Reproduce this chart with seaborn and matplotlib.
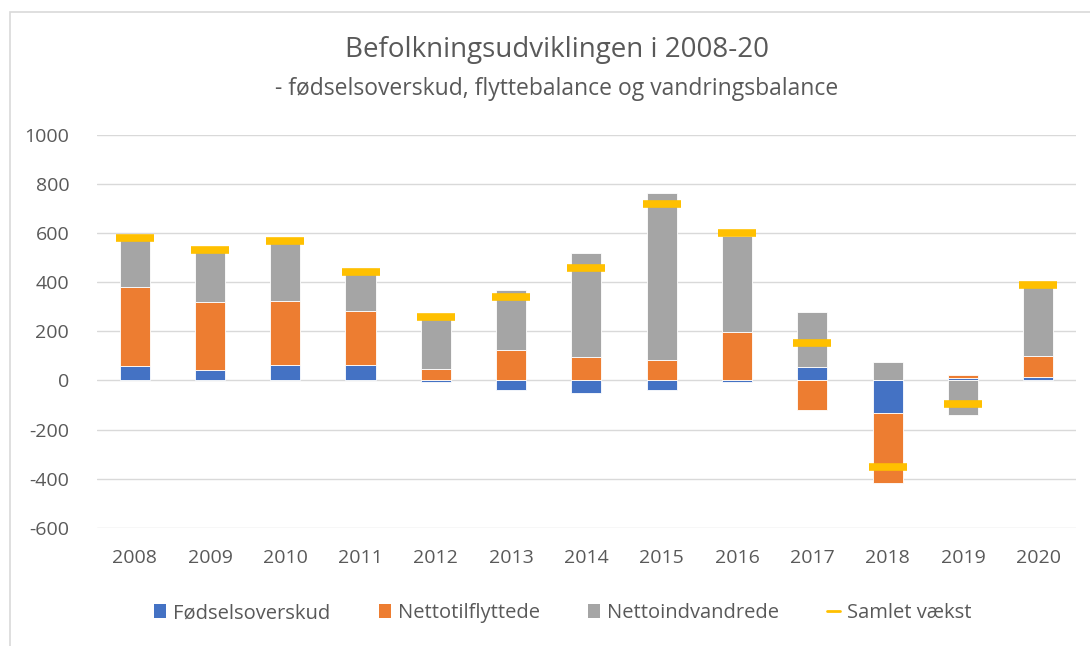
import numpy as np
import pandas as pd
import matplotlib
matplotlib.use("Agg")
import matplotlib.pyplot as plt
from matplotlib.patches import Patch, Rectangle
from matplotlib.lines import Line2D
import seaborn as sns

sns.set_style("white")
plt.rcParams['font.family'] = ['Open Sans', 'DejaVu Sans']
plt.rcParams['axes.unicode_minus'] = False

# Data ##########################################################
years = ['2008', '2009', '2010', '2011', '2012', '2013', '2014',
         '2015', '2016', '2017', '2018', '2019', '2020']
foedsel = [58, 43, 64, 64, -7, -39, -49, -39, -7, 54, -134, 12, 16]
tilflyt = [323, 276, 259, 219, 47, 126, 95, 85, 199, -122, -285, 10, 84]
indvandr = [194, 206, 237, 175, 203, 243, 426, 680, 391, 223, 75, -139, 280]
samlet = [580, 533, 570, 440, 257, 340, 460, 720, 600, 153, -351, -97, 387]

series_names = ['Fødselsoverskud', 'Nettotilflyttede', 'Nettoindvandrede']
colors = ['#4472C4', '#ED7D31', '#A5A5A5']
gold = '#FFC000'
txt = '#595959'

# Excel-style stacking: positives upward, negatives downward ###
def stack_bottoms(layers):
    pos = np.zeros(len(layers[0]))
    neg = np.zeros(len(layers[0]))
    bottoms = []
    for layer in layers:
        v = np.array(layer, dtype=float)
        b = np.where(v >= 0, pos, neg)
        bottoms.append(b)
        pos = pos + np.where(v >= 0, v, 0)
        neg = neg + np.where(v < 0, v, 0)
    return bottoms

layers = [foedsel, tilflyt, indvandr]
bottoms = stack_bottoms(layers)

# Plot ##########################################################
fig = plt.figure(figsize=(10.9, 6.46), dpi=100)
ax = fig.add_axes([0.089, 0.183, 0.898, 0.608])

for vals, bot, col in zip(layers, bottoms, colors):
    df = pd.DataFrame({'year': years, 'value': vals})
    sns.barplot(data=df, x='year', y='value', bottom=bot, color=col,
                width=0.4, edgecolor='white', linewidth=0.6,
                saturation=1, ax=ax, zorder=2)

df_tot = pd.DataFrame({'year': years, 'samlet': samlet})
sns.pointplot(data=df_tot, x='year', y='samlet', linestyle='none',
              marker='_', markersize=28, markeredgewidth=5.5,
              color=gold, errorbar=None, ax=ax, zorder=4)

ax.set_ylim(-600, 1000)
ax.set_yticks(range(-600, 1001, 200))
ax.set_xlim(-0.5, 12.5)
ax.set_xlabel('')
ax.set_ylabel('')
ax.grid(axis='y', color='#D9D9D9', linewidth=1, zorder=0)
ax.set_axisbelow(True)
for s in ax.spines.values():
    s.set_visible(False)
ax.tick_params(axis='both', length=0, labelsize=14, colors=txt)
ax.tick_params(axis='y', pad=20)
ax.tick_params(axis='x', pad=15)

fig.text(0.511, 0.922, 'Befolkningsudviklingen i 2008-20', ha='center',
         va='center', fontsize=20, color=txt)
fig.text(0.511, 0.863, '- fødselsoverskud, flyttebalance og vandringsbalance',
         ha='center', va='center', fontsize=16.5, color=txt)

handles = [Patch(facecolor=c, edgecolor='none') for c in colors]
handles.append(Line2D([0], [0], color=gold, linewidth=2))
labels = series_names + ['Samlet vækst']
fig.legend(handles, labels, loc='center', bbox_to_anchor=(0.516, 0.051),
           ncol=4, frameon=False, fontsize=14.5, labelcolor=txt,
           handlelength=0.6, handleheight=0.7, handletextpad=0.35,
           columnspacing=2.4)

# chart area border
fig.patches.append(Rectangle((0.0095, -0.1), 1.2, 1.081, transform=fig.transFigure,
                             fill=False, edgecolor='#D9D9D9', linewidth=1.2))

fig.savefig('out.png', dpi=100)
